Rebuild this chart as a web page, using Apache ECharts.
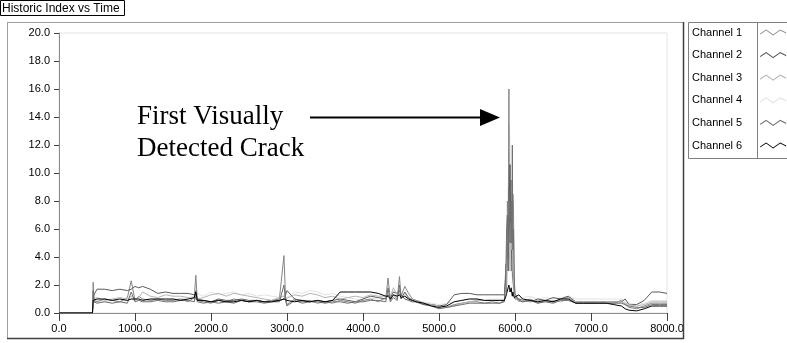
<!DOCTYPE html>
<html>
<head>
<meta charset="utf-8">
<script src="https://cdn.jsdelivr.net/npm/echarts@6/dist/echarts.min.js"></script>
<style>
  html, body { margin: 0; padding: 0; background: #fff; }
  #chart { width: 787px; height: 343px; }
</style>
</head>
<body>
<div id="chart"></div>
<script>
// Sample times (x axis)
const time = [0, 440, 450, 460, 500, 600, 700, 800, 900, 950,
  1000, 1050, 1100, 1200, 1300, 1400, 1500, 1600, 1700, 1780,
  1800, 1820, 1900, 2000, 2100, 2200, 2300, 2400, 2500, 2600,
  2700, 2800, 2900, 2960, 2980, 3000, 3100, 3200, 3300, 3400,
  3500, 3600, 3700, 3800, 3900, 4000, 4100, 4200, 4300, 4330,
  4360, 4400, 4450, 4480, 4500, 4550, 4600, 4650, 4700, 4800,
  4900, 5000, 5100, 5200, 5300, 5400, 5500, 5600, 5700, 5800,
  5860, 5880, 5890, 5900, 5910, 5920, 5928, 5935, 5942, 5950, 5958, 5965, 5972, 5980, 5990, 6000, 6050,
  6100, 6200, 6300, 6400, 6500, 6600, 6700, 6800, 6900, 7000,
  7100, 7200, 7300, 7400, 7450, 7500, 7600, 7700, 7800, 7900,
  8000];

const channel1 = [0, 0, 2.2, 0.9, 0.8, 1.0, 0.9, 0.8, 1.1, 2.3,
  0.9, 1.2, 1.0, 0.9, 1.0, 0.9, 0.9, 1.0, 0.8, 1.1,
  2.7, 0.9, 0.8, 0.7, 0.9, 0.8, 1.0, 0.9, 0.8, 0.9,
  0.8, 0.9, 1.0, 4.1, 1.2, 0.6, 1.0, 0.8, 0.9, 0.7,
  0.8, 0.7, 0.9, 0.8, 0.7, 0.9, 1.0, 0.8, 1.1, 2.5,
  0.9, 1.3, 1.0, 2.6, 1.2, 1.9, 1.4, 1.0, 0.9, 0.7,
  0.6, 0.5, 0.4, 0.6, 0.7, 0.8, 0.8, 0.7, 0.8, 0.7,
  0.9, 3.5, 1.5, 8.0, 4.0, 16.0, 5.0, 6.0, 9.0, 9.5, 3.0, 4.0, 8.5, 7.5, 2.0, 1.2, 0.9,
  0.8, 1.0, 0.7, 0.9, 0.8, 1.0, 1.1, 0.7, 0.7, 0.7,
  0.7, 0.7, 0.7, 0.9, 0.6, 0.4, 0.3, 0.5, 0.7, 0.7,
  0.7];

const channel2 = [0, 0, 0.6, 1.3, 1.7, 1.7, 1.6, 1.7, 1.6, 1.7,
  1.9, 1.8, 1.9, 1.7, 1.4, 1.5, 1.4, 1.4, 1.4, 1.3,
  1.0, 0.9, 0.9, 0.8, 1.0, 0.9, 0.9, 1.0, 0.9, 0.9,
  0.8, 0.9, 0.9, 1.0, 1.1, 1.6, 1.0, 0.9, 0.8, 0.9,
  0.8, 0.9, 1.0, 0.9, 0.8, 1.0, 1.2, 1.1, 1.0, 1.3,
  1.1, 1.5, 1.4, 1.6, 1.3, 1.0, 0.9, 0.8, 0.8, 0.6,
  0.6, 0.5, 0.6, 1.3, 1.4, 1.4, 1.3, 1.3, 1.3, 1.3,
  1.3, 2.5, 4.0, 5.0, 3.0, 7.0, 9.0, 10.6, 6.0, 5.5, 4.0, 3.0, 2.5, 2.0, 1.5, 1.0, 1.0,
  0.9, 0.8, 1.0, 0.9, 1.1, 1.0, 1.2, 0.8, 0.8, 0.8,
  0.8, 0.8, 0.8, 0.8, 1.0, 0.6, 0.6, 0.9, 1.5, 1.5,
  1.4];

const channel3 = [0, 0, 0.8, 1.0, 1.1, 0.9, 1.0, 1.1, 1.0, 1.2,
  1.0, 1.1, 1.5, 1.2, 1.1, 1.3, 1.2, 1.2, 1.1, 1.0,
  1.1, 1.0, 1.1, 1.3, 1.4, 1.2, 1.4, 1.3, 1.2, 1.1,
  1.0, 0.9, 1.1, 1.2, 1.0, 1.0, 1.3, 1.2, 1.4, 1.3,
  1.1, 1.2, 1.0, 1.1, 1.2, 1.1, 1.3, 1.2, 1.2, 1.6,
  1.2, 1.8, 1.3, 1.5, 1.1, 1.4, 1.0, 0.9, 0.8, 0.7,
  0.6, 0.5, 0.4, 0.5, 0.7, 0.8, 0.9, 0.9, 0.9, 0.9,
  0.9, 2.0, 3.5, 6.0, 7.0, 8.0, 4.0, 3.0, 6.5, 4.5, 7.0, 5.5, 3.0, 2.5, 1.5, 1.1, 0.8,
  0.9, 0.8, 0.9, 0.8, 0.9, 0.8, 1.0, 0.8, 0.8, 0.8,
  0.8, 0.8, 0.8, 0.8, 0.7, 0.6, 0.5, 0.6, 0.8, 0.8,
  0.8];

const channel4 = [0, 0, 0.5, 0.8, 0.9, 0.8, 0.9, 0.8, 0.9, 1.0,
  0.9, 0.9, 1.0, 0.9, 1.0, 0.9, 1.0, 1.0, 1.1, 1.2,
  1.0, 1.4, 1.2, 1.5, 1.3, 1.4, 1.5, 1.3, 1.4, 1.2,
  1.3, 1.2, 1.1, 1.3, 1.2, 1.1, 1.5, 1.4, 1.6, 1.5,
  1.3, 1.4, 1.2, 1.1, 1.0, 0.9, 1.0, 1.1, 1.0, 1.4,
  1.1, 1.6, 1.2, 1.4, 1.2, 1.5, 1.1, 1.0, 0.9, 0.8,
  0.7, 0.6, 0.7, 0.8, 0.9, 1.0, 1.0, 0.9, 1.0, 1.0,
  1.0, 1.5, 2.0, 4.0, 8.0, 13.5, 13.0, 12.0, 6.0, 3.5, 3.0, 2.5, 2.0, 1.5, 1.3, 1.2, 1.0,
  1.1, 1.2, 1.0, 1.1, 1.0, 1.1, 1.2, 1.0, 1.0, 1.0,
  1.0, 1.0, 1.0, 1.0, 0.8, 0.7, 0.6, 0.7, 0.9, 0.9,
  0.9];

const channel5 = [0, 0, 1.6, 0.8, 0.7, 0.8, 0.7, 0.8, 0.7, 1.5,
  0.8, 0.9, 0.8, 0.8, 0.9, 0.8, 0.8, 0.9, 0.9, 0.8,
  1.6, 0.8, 0.7, 0.8, 0.7, 0.8, 0.7, 0.9, 0.8, 0.8,
  0.7, 0.8, 0.8, 2.0, 0.9, 0.5, 0.9, 0.7, 0.8, 0.8,
  0.7, 0.8, 0.8, 0.7, 0.8, 0.8, 0.9, 0.9, 0.8, 1.8,
  0.8, 1.1, 0.9, 2.0, 1.0, 1.5, 1.1, 0.9, 0.8, 0.6,
  0.5, 0.3, 0.4, 0.5, 0.6, 0.7, 0.7, 0.7, 0.7, 0.7,
  0.8, 3.0, 6.0, 7.0, 4.0, 9.0, 6.5, 5.0, 7.5, 8.0, 5.0, 12.0, 4.5, 6.0, 2.5, 1.4, 0.9,
  0.8, 0.9, 0.7, 0.8, 0.7, 0.9, 0.9, 0.7, 0.7, 0.7,
  0.7, 0.7, 0.7, 0.7, 0.6, 0.5, 0.4, 0.4, 0.6, 0.6,
  0.6];

const channel6 = [0, 0, 0.9, 0.9, 1.0, 1.0, 0.9, 1.0, 0.9, 1.0,
  1.0, 1.0, 0.9, 1.0, 1.0, 1.0, 1.0, 0.9, 1.0, 1.1,
  1.5, 0.9, 0.9, 0.8, 0.9, 0.8, 0.8, 0.9, 0.8, 0.9,
  0.8, 0.8, 0.9, 1.0, 0.9, 0.9, 0.8, 0.9, 0.8, 0.9,
  0.8, 0.9, 1.5, 1.5, 1.5, 1.5, 1.5, 1.4, 1.2, 1.2,
  1.0, 1.3, 1.2, 1.3, 1.1, 1.2, 1.0, 0.9, 0.8, 0.7,
  0.5, 0.4, 0.5, 0.8, 0.9, 1.0, 1.0, 0.9, 0.9, 0.9,
  0.9, 1.2, 1.4, 1.5, 1.8, 2.0, 1.7, 1.5, 1.6, 1.8, 1.4, 1.2, 1.5, 1.3, 1.1, 1.0, 1.3,
  1.0, 0.9, 0.8, 0.9, 0.8, 1.0, 1.0, 0.7, 0.7, 0.7,
  0.7, 0.7, 0.6, 0.5, 0.3, 0.2, 0.15, 0.3, 0.5, 0.5,
  0.5];

const channelNames = ['Channel 1', 'Channel 2', 'Channel 3', 'Channel 4', 'Channel 5', 'Channel 6'];
const channelValues = [channel1, channel2, channel3, channel4, channel5, channel6];
const channelColors = ['#858585', '#5a5a5a', '#b4b4b4', '#e2e2e2', '#6e6e6e', '#000000'];

const yTicks = { min: 0, max: 20, step: 2 };
const xTicks = { min: 0, max: 8000, step: 1000 };

const uiFont = 'Liberation Sans';
const wave = 'path://M0,6 L6,2 L13,7 L20,2 L26,5 L26,6.2 L20,3.2 L13,8.2 L6,3.2 L0,7.2 Z';

const chart = echarts.init(document.getElementById('chart'), null, { renderer: 'canvas' });

const series = channelNames.map((name, i) => ({
  name: name,
  type: 'line',
  data: time.map((t, k) => [t, channelValues[i][k]]),
  showSymbol: false,
  symbol: 'none',
  lineStyle: { color: channelColors[i], width: 1 },
  itemStyle: { color: channelColors[i] },
  emphasis: { disabled: true },
  animation: false,
  z: i === 3 ? 1 : 2
}));

chart.setOption({
  animation: false,
  backgroundColor: '#ffffff',
  grid: {
    left: 59, right: 120, top: 33, bottom: 30,
    show: true, borderColor: '#e4e4e4', borderWidth: 1, backgroundColor: '#ffffff'
  },
  legend: {
    orient: 'vertical',
    left: 687, top: 21,
    align: 'right',
    icon: wave,
    itemWidth: 26, itemHeight: 9,
    itemGap: 9.6,
    selectedMode: false,
    itemStyle: { borderWidth: 0 },
    textStyle: { fontFamily: uiFont, fontSize: 11, color: '#000', lineHeight: 13, padding: [0, 13, 0, 0] },
    data: channelNames
  },
  xAxis: [{
    type: 'value', min: xTicks.min, max: xTicks.max, interval: xTicks.step,
    axisLine: { show: true, onZero: false, lineStyle: { color: '#e4e4e4' } },
    axisTick: { show: true, inside: false, length: 8, lineStyle: { color: '#404040' } },
    axisLabel: { fontFamily: uiFont, fontSize: 11, color: '#000', margin: 10,
      formatter: v => v.toFixed(1) },
    splitLine: { show: false }
  }, {
    type: 'value', position: 'top', min: xTicks.min, max: xTicks.max,
    axisLine: { show: true, lineStyle: { color: '#8c8c8c' } },
    axisTick: { show: false }, axisLabel: { show: false }, splitLine: { show: false }
  }],
  yAxis: {
    type: 'value', min: yTicks.min, max: yTicks.max, interval: yTicks.step,
    axisLine: { show: true, onZero: false, lineStyle: { color: '#8c8c8c' } },
    axisTick: { show: true, length: 5, lineStyle: { color: '#404040' } },
    axisLabel: { fontFamily: uiFont, fontSize: 11, color: '#000', margin: 9,
      formatter: v => v.toFixed(1) },
    splitLine: { show: false }
  },
  series: series,
  graphic: [
    // clip of the last x label at the panel edge
    { type: 'rect', z: 100, shape: { x: 683, y: 300, width: 5, height: 43 }, style: { fill: '#fff' } },
    // panel frame
    { type: 'line', z: 101, shape: { x1: 7, y1: 22.5, x2: 683, y2: 22.5 }, style: { stroke: '#a0a0a0', lineWidth: 1 } },
    { type: 'line', z: 101, shape: { x1: 7.5, y1: 22, x2: 7.5, y2: 338 }, style: { stroke: '#a0a0a0', lineWidth: 1 } },
    { type: 'line', z: 101, shape: { x1: 683.5, y1: 22, x2: 683.5, y2: 339 }, style: { stroke: '#404040', lineWidth: 1.5 } },
    { type: 'line', z: 101, shape: { x1: 7, y1: 338.5, x2: 684, y2: 338.5 }, style: { stroke: '#404040', lineWidth: 1.5 } },
    // title tab
    { type: 'rect', z: 102, shape: { x: 0.5, y: 0.5, width: 124, height: 15 }, style: { fill: '#fff', stroke: '#000', lineWidth: 1 } },
    { type: 'text', z: 103, style: { x: 2, y: 8.5, text: 'Historic Index vs Time', font: '12px "Liberation Sans"', fill: '#000', verticalAlign: 'middle' } },
    // legend box
    { type: 'rect', z: 0, shape: { x: 688.5, y: 22.5, width: 100, height: 136 }, style: { fill: '#fff', stroke: '#808080', lineWidth: 1 } },
    { type: 'line', z: 1, shape: { x1: 757.5, y1: 22, x2: 757.5, y2: 158 }, style: { stroke: '#808080', lineWidth: 1 } },
    // annotation
    { type: 'text', z: 110, style: { x: 137, y: 117, text: 'First Visually', font: '27px "Liberation Serif"', fill: '#000', verticalAlign: 'middle' } },
    { type: 'text', z: 110, style: { x: 137, y: 149, text: 'Detected Crack', font: '27px "Liberation Serif"', fill: '#000', verticalAlign: 'middle' } },
    { type: 'line', z: 110, shape: { x1: 310, y1: 117.5, x2: 482, y2: 117.5 }, style: { stroke: '#000', lineWidth: 2 } },
    { type: 'polygon', z: 110, shape: { points: [[480, 109], [500, 117.5], [480, 126]] }, style: { fill: '#000' } }
  ]
});
</script>
</body>
</html>
